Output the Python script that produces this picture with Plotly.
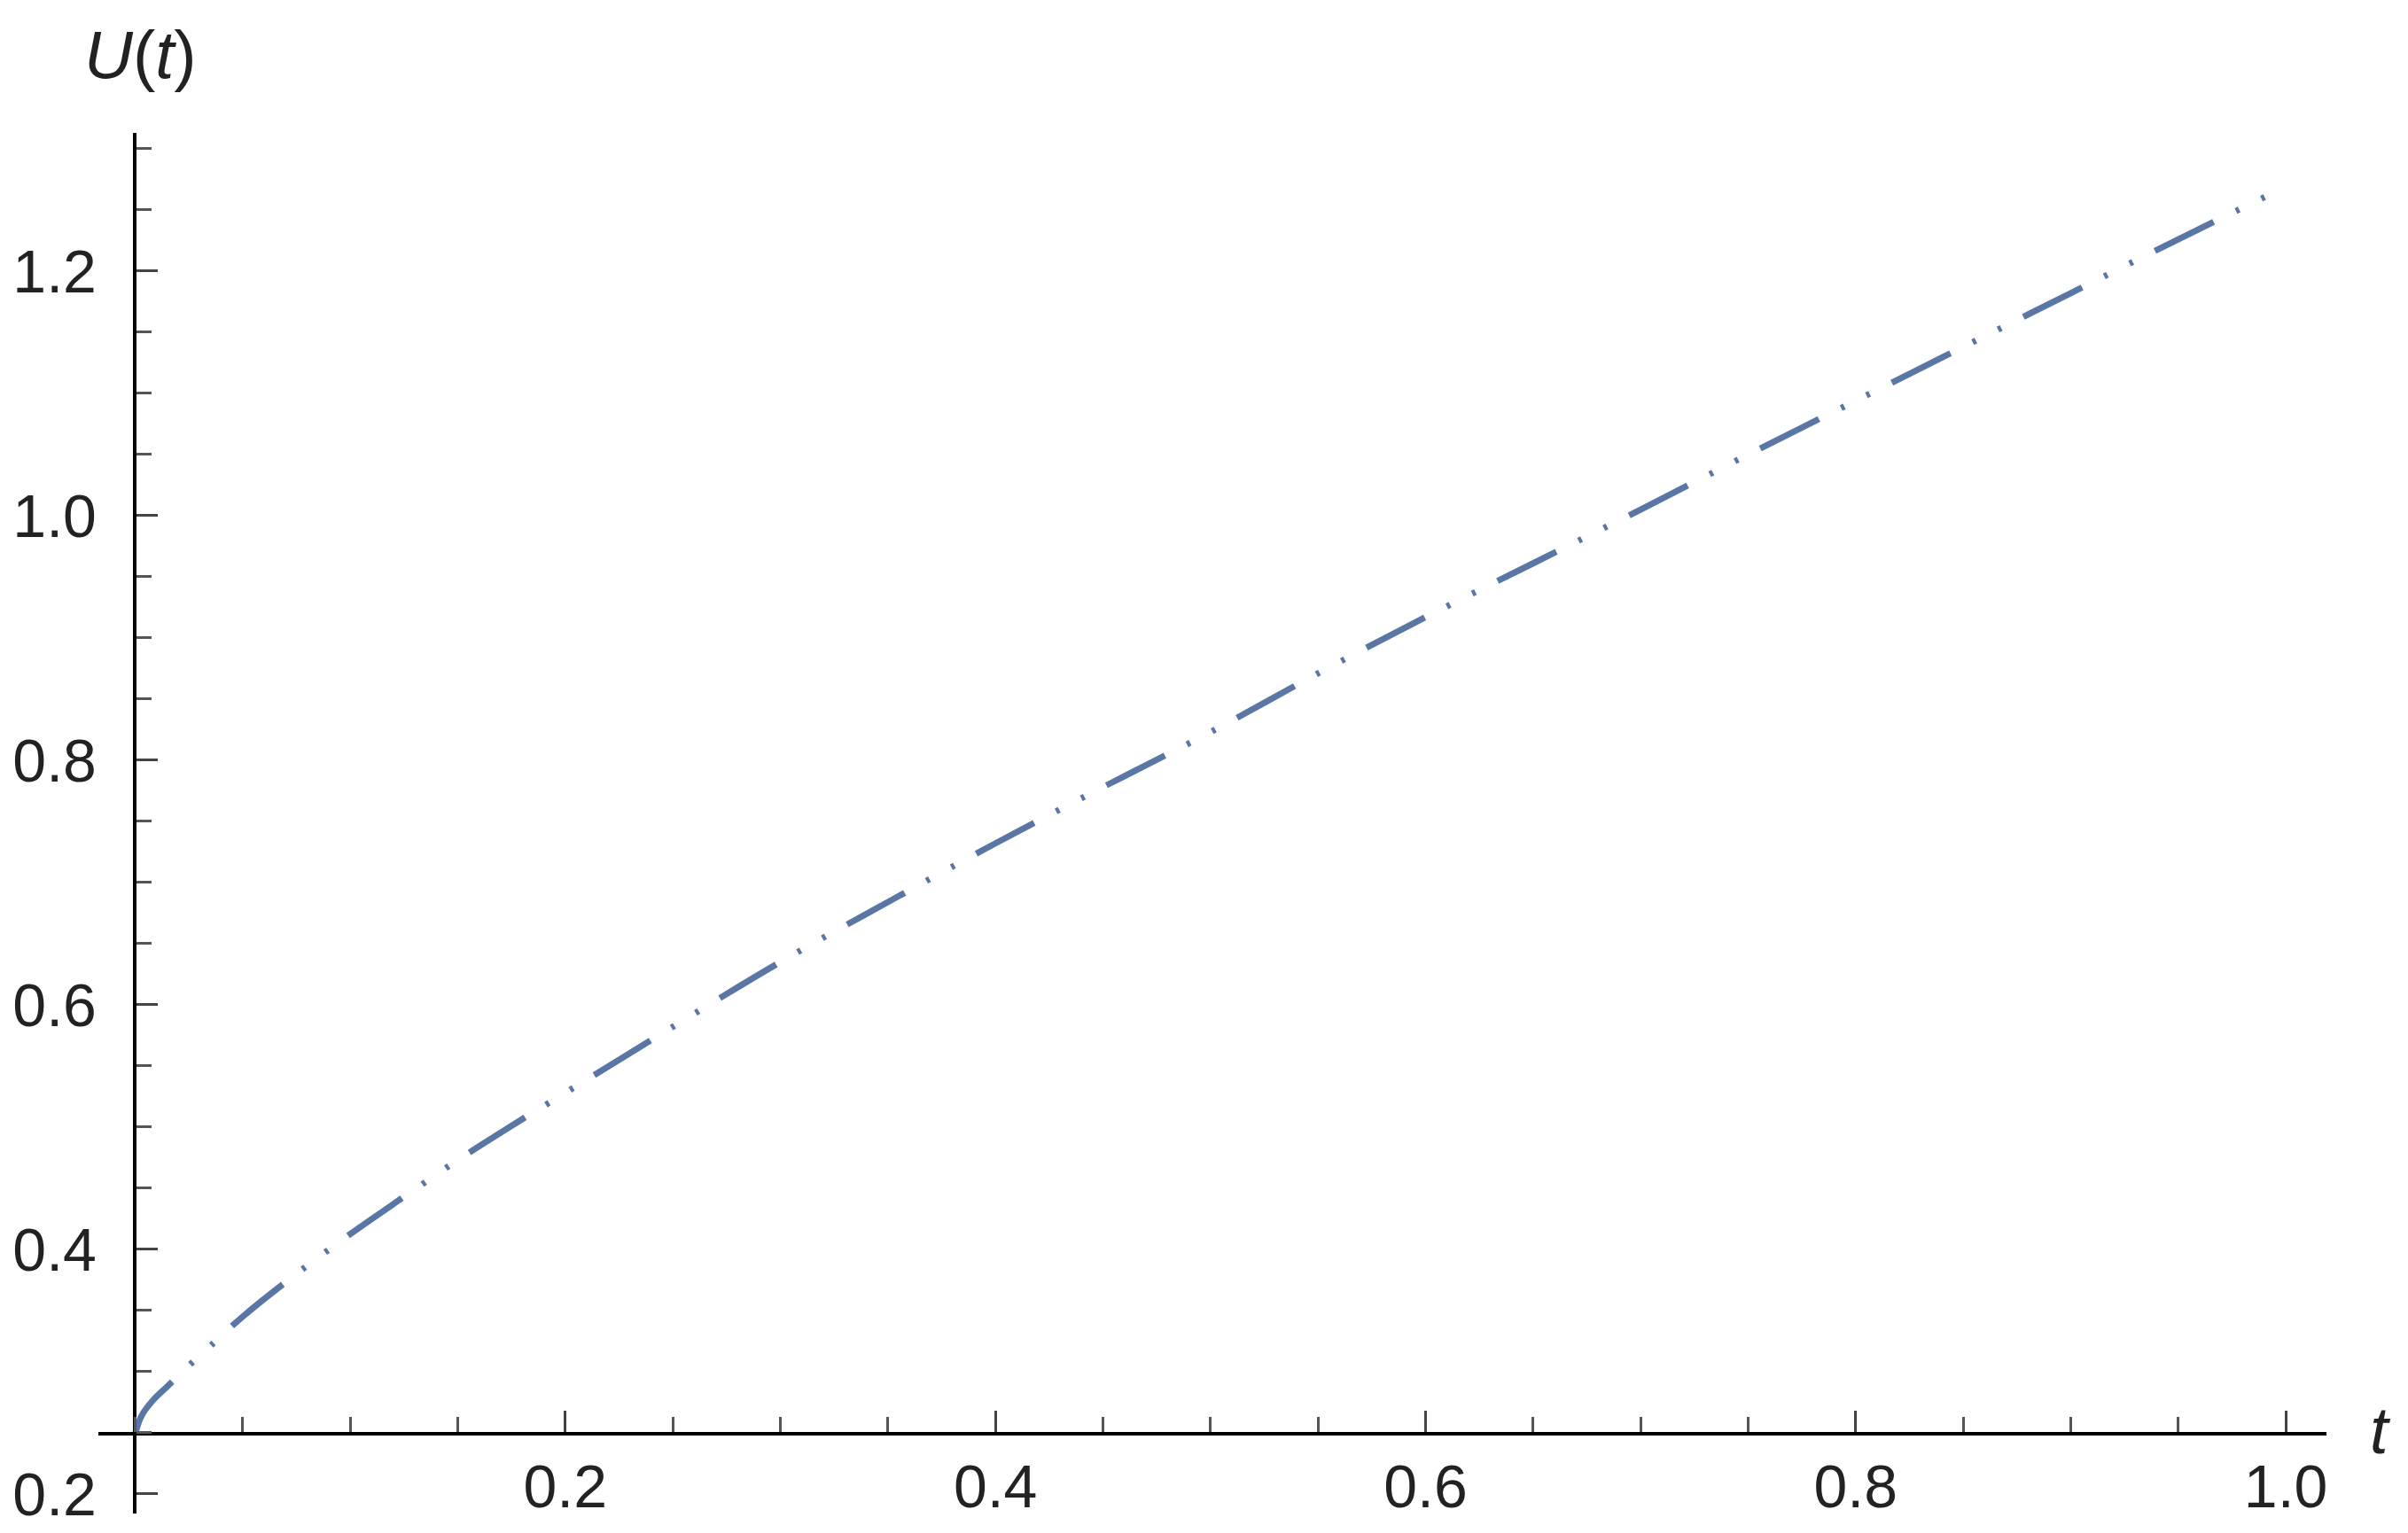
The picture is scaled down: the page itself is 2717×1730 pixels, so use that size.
import plotly.graph_objects as go

# Data
t_vals = [0.0, 0.003, 0.008, 0.015, 0.025, 0.035, 0.05, 0.075, 0.1, 0.125, 0.15,
          0.175, 0.2, 0.25, 0.3, 0.35, 0.4, 0.45, 0.5, 0.55, 0.6, 0.65, 0.7,
          0.75, 0.8, 0.85, 0.9, 0.95, 1.0]
u_vals = [0.249, 0.264, 0.276, 0.288, 0.305, 0.321, 0.345, 0.380, 0.4125, 0.443, 0.473,
          0.501, 0.528, 0.582, 0.635, 0.684, 0.732, 0.778, 0.823, 0.871, 0.917, 0.961, 1.005,
          1.050, 1.094, 1.138, 1.182, 1.226, 1.269]

x_ticks = [0.2, 0.4, 0.6, 0.8, 1.0]
x_tick_text = ["0.2", "0.4", "0.6", "0.8", "1.0"]
y_ticks = [0.2, 0.4, 0.6, 0.8, 1.0, 1.2]
y_tick_text = ["0.2", "0.4", "0.6", "0.8", "1.0", "1.2"]

x_range = [-0.0171, 1.0189]
y_range = [0.184, 1.313]
x_cross = 0.0
y_cross = 0.249

W, H = 2717, 1730
ml, mr, mt, mb = 103, 100, 142, 30
pw = W - ml - mr
ph = H - mt - mb

line_color = "#5a76a5"
font_family = "Liberation Sans, Arial, sans-serif"

fig = go.Figure()
fig.add_trace(go.Scatter(
    x=t_vals, y=u_vals, mode="lines",
    line=dict(color=line_color, width=7, dash="74px,28px,4px,28px,4px,28px", shape="spline"),
    showlegend=False, hoverinfo="skip",
))

xpos = (y_cross - y_range[0]) / (y_range[1] - y_range[0])
ypos = (x_cross - x_range[0]) / (x_range[1] - x_range[0])

def px_to_paper(px, py):
    return (px - ml) / pw, (H - mb - py) / ph

ux, uy = px_to_paper(150, 54)
tx, ty = px_to_paper(2678, 1606)

fig.update_layout(
    width=W, height=H,
    margin=dict(l=ml, r=mr, t=mt, b=mb, autoexpand=False),
    paper_bgcolor="white", plot_bgcolor="white",
    font=dict(family=font_family, size=68, color="#222222"),
    xaxis=dict(
        range=x_range, anchor="free", position=xpos,
        showgrid=False, zeroline=False,
        showline=True, linecolor="black", linewidth=4,
        tickmode="array", tickvals=x_ticks, ticktext=x_tick_text,
        ticks="inside", ticklen=24, tickwidth=3, tickcolor="#444444",
        ticklabelstandoff=-1,
        minor=dict(dtick=0.05, tick0=0, ticks="inside", ticklen=17, tickwidth=3,
                   tickcolor="#555555", showgrid=False),
        tickfont=dict(size=68, family=font_family, color="#222222"),
    ),
    yaxis=dict(
        range=y_range, anchor="free", position=ypos,
        showgrid=False, zeroline=False,
        showline=True, linecolor="black", linewidth=4,
        tickmode="array", tickvals=y_ticks, ticktext=y_tick_text,
        ticks="inside", ticklen=24, tickwidth=3, tickcolor="#444444",
        ticklabelstandoff=28,
        minor=dict(dtick=0.05, tick0=0, ticks="inside", ticklen=17, tickwidth=3,
                   tickcolor="#555555", showgrid=False),
        tickfont=dict(size=68, family=font_family, color="#222222"),
    ),
    annotations=[
        dict(text="<i>U</i>(<i>t</i>)", x=ux, y=uy, xref="paper", yref="paper",
             showarrow=False, font=dict(size=76, family=font_family, color="#222222"),
             xanchor="center", yanchor="middle"),
        dict(text="<i>t</i>", x=tx, y=ty, xref="paper", yref="paper",
             showarrow=False, font=dict(size=74, family=font_family, color="#222222"),
             xanchor="center", yanchor="middle"),
    ],
)

fig.write_html("out.html")
